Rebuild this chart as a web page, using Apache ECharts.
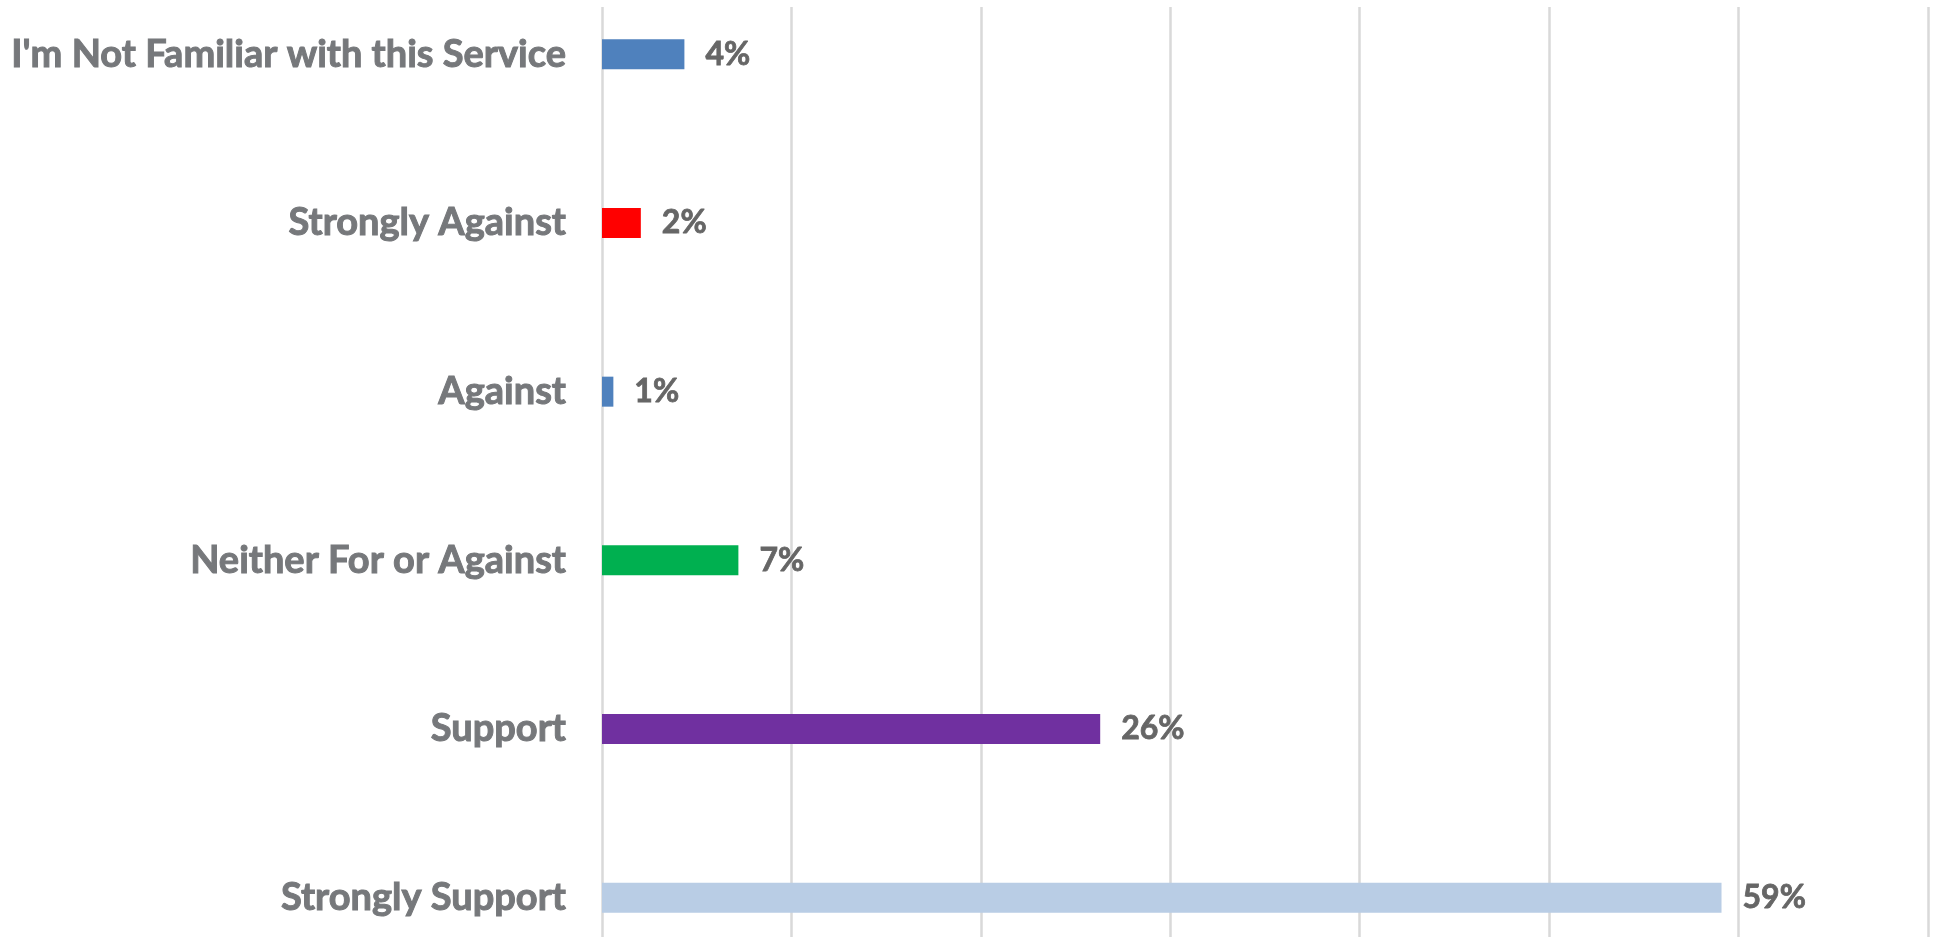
<!DOCTYPE html>
<html>
<head>
<meta charset="utf-8">
<title>Service support</title>
<script src="https://cdn.jsdelivr.net/npm/echarts@6/dist/echarts.min.js"></script>
<style>
  html, body { margin: 0; padding: 0; background: #fff; overflow: hidden; }
  /* the original plot is cropped at top and bottom, so the chart box overhangs the page */
  #main { position: absolute; left: 0; top: -30px; width: 1933px; height: 1012px; }
</style>
</head>
<body>
<div id="main"></div>
<script>
// answers, top to bottom
var categories = [
  "I'm Not Familiar with this Service",
  'Strongly Against',
  'Against',
  'Neither For or Against',
  'Support',
  'Strongly Support'
];
// percent of responses
var shares = [4.35, 2.05, 0.6, 7.2, 26.3, 59.1];
var barColors = ['#4F81BD', '#FF0000', '#4F81BD', '#00B050', '#7030A0', '#B9CDE5'];

var myChart = echarts.init(document.getElementById('main'));

var option = {
  animation: false,
  grid: {
    left: 602,
    right: 5,
    top: 0,
    bottom: 0,
    containLabel: false
  },
  xAxis: {
    type: 'value',
    min: 0,
    max: 70,
    interval: 10,
    axisLine: { show: false },
    axisTick: { show: false },
    axisLabel: { show: false },
    splitLine: { lineStyle: { color: '#D9D9D9', width: 2.5 } }
  },
  yAxis: {
    type: 'category',
    inverse: true,
    data: categories,
    axisLine: { show: false },
    axisTick: { show: false },
    axisLabel: {
      margin: 36,
      color: '#76787B',
      fontFamily: 'Lato',
      fontWeight: 'bold',
      fontSize: 38,
      textBorderColor: '#76787B',
      textBorderWidth: 1
    }
  },
  series: [
    {
      type: 'bar',
      barWidth: 30,
      data: shares.map(function (v, i) {
        return { value: v, itemStyle: { color: barColors[i] } };
      }),
      label: {
        show: true,
        position: 'right',
        distance: 21,
        color: '#666666',
        fontFamily: 'Lato',
        fontWeight: 'bold',
        fontSize: 32,
        textBorderColor: '#666666',
        textBorderWidth: 0.8,
        formatter: function (p) { return Math.round(p.value) + '%'; }
      }
    }
  ],
  // gridlines start a little below the page top in the original
  graphic: [
    { type: 'rect', left: 0, top: 0, z: 100, shape: { width: 1933, height: 37 }, style: { fill: '#fff' } }
  ]
};

myChart.setOption(option);
</script>
</body>
</html>
